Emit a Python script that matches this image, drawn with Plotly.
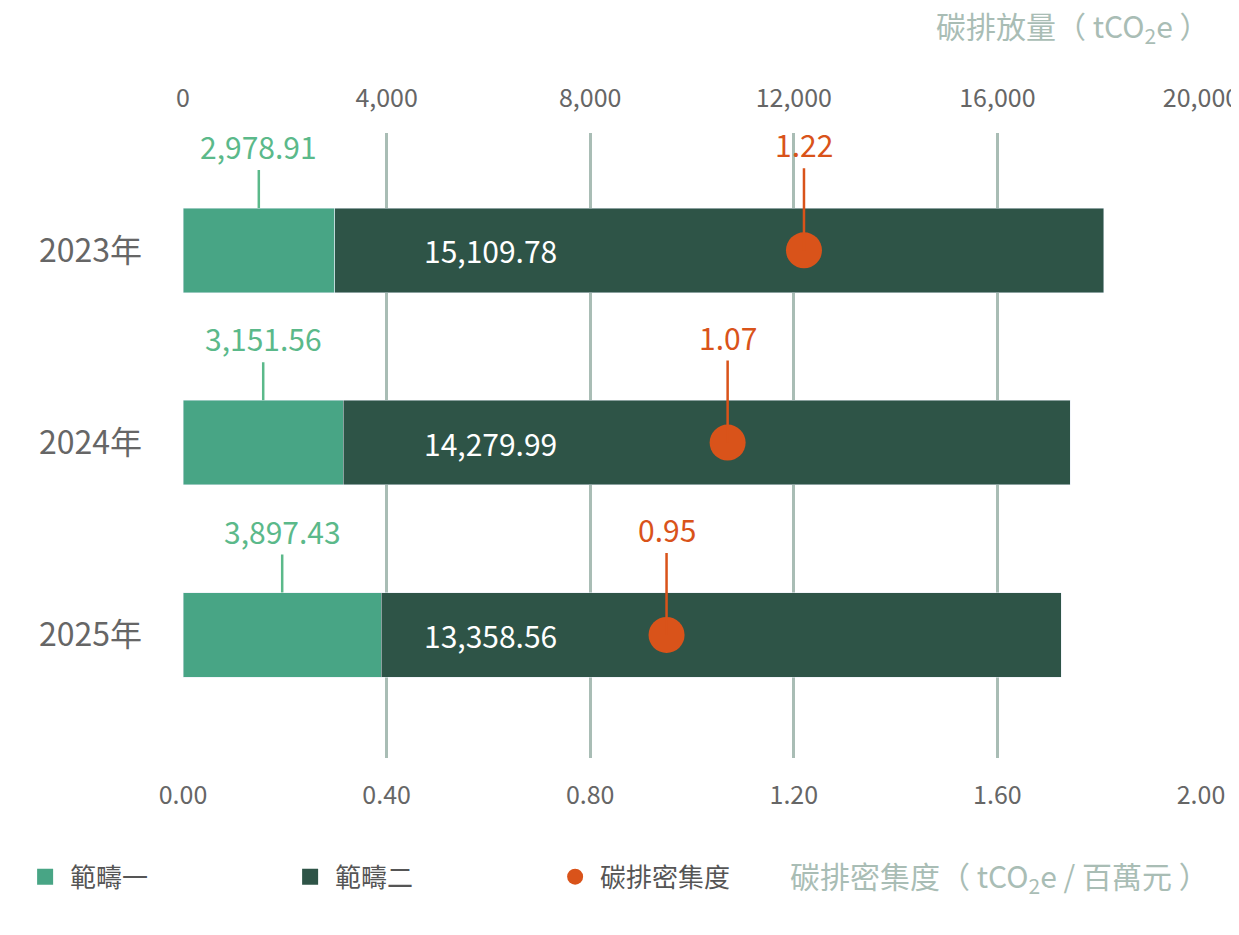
import plotly.graph_objects as go

years = ["2023年", "2024年", "2025年"]
scope1 = [2978.91, 3151.56, 3897.43]
scope2 = [15109.78, 14279.99, 13358.56]
intensity = [1.22, 1.07, 0.95]
top_ticks = [0, 4000, 8000, 12000, 16000, 20000]
bottom_ticks = [0.0, 0.4, 0.8, 1.2, 1.6, 2.0]

C1 = "#48a585"
C2 = "#2e5447"
OR = "#d9531a"
GRID = "#a9bdb5"
FONT = "Noto Sans CJK TC"
pos = list(range(len(years)))

fig = go.Figure()
# bars on the top (emissions) axis, intensity markers on the bottom axis drawn above
fig.add_trace(go.Bar(y=pos, x=scope1, orientation="h", marker_color=C1, width=0.44,
                     xaxis="x", showlegend=False))
fig.add_trace(go.Bar(y=pos, x=scope2, orientation="h", marker_color=C2, width=0.44,
                     xaxis="x", showlegend=False))
fig.add_trace(go.Scatter(y=pos, x=intensity, mode="markers", xaxis="x2",
                         marker=dict(color=OR, size=36), showlegend=False))

# legend-only dummies
for name, col, sym in [("範疇一", C1, "square"), ("範疇二", C2, "square"), ("碳排密集度", OR, "circle")]:
    fig.add_trace(go.Scatter(x=[None], y=[None], mode="markers", name=name, xaxis="x",
                             marker=dict(color=col, size=30, symbol=sym)))

for i in pos:
    fig.add_annotation(x=scope1[i] / 2, y=i - 0.22, xref="x", yref="y", text=f"{scope1[i]:,.2f}",
                       showarrow=True, arrowhead=0, arrowwidth=2.5, arrowcolor="#5bb98a",
                       ax=0, ay=-38, yanchor="bottom", font=dict(size=30, color="#5bb98a"))
    fig.add_annotation(x=4700, y=i, xref="x", yref="y", text=f"{scope2[i]:,.2f}", showarrow=False,
                       xanchor="left", font=dict(size=30, color="white"))
    fig.add_annotation(x=intensity[i], y=i, xref="x2", yref="y", text=f"{intensity[i]:.2f}",
                       showarrow=True, arrowhead=0, arrowwidth=2.5, arrowcolor=OR,
                       ax=0, ay=-82, yanchor="bottom", font=dict(size=30, color=OR))

fig.add_annotation(x=1.01, y=1.17, xref="paper", yref="paper", xanchor="right", yanchor="middle",
                   text="碳排放量（ tCO<sub>2</sub>e ）", showarrow=False, font=dict(size=30, color=GRID))
fig.add_annotation(x=1.01, y=-0.19, xref="paper", yref="paper", xanchor="right", yanchor="middle",
                   text="碳排密集度（ tCO<sub>2</sub>e / 百萬元 ）", showarrow=False,
                   font=dict(size=30, color=GRID))

fig.update_layout(
    width=1239, height=935, barmode="stack", plot_bgcolor="white", paper_bgcolor="white",
    margin=dict(l=164, r=46, t=125, b=185),
    font=dict(family=FONT, color="#666666"),
    xaxis=dict(range=[0, 20000], side="top", tickvals=top_ticks,
               ticktext=[f"{v:,}" for v in top_ticks], showgrid=True, gridcolor=GRID, gridwidth=3,
               zeroline=False, tickfont=dict(size=25), ticklabelstandoff=20, automargin=False),
    xaxis2=dict(range=[0, 2], overlaying="x", side="bottom", tickvals=bottom_ticks,
                ticktext=[f"{v:.2f}" for v in bottom_ticks], showgrid=False, zeroline=False,
                tickfont=dict(size=25), ticklabelstandoff=20, automargin=False),
    yaxis=dict(range=[2.64, -0.61], tickvals=pos, ticktext=years, showgrid=False, zeroline=False,
               tickfont=dict(size=32), ticklabelstandoff=40, automargin=False),
    legend=dict(orientation="h", x=-0.16, y=-0.19, xanchor="left", yanchor="middle",
                traceorder="normal", font=dict(size=26, color="#555555"), itemwidth=40,
                entrywidthmode="pixels", entrywidth=210),
)

fig.write_html("out.html")
